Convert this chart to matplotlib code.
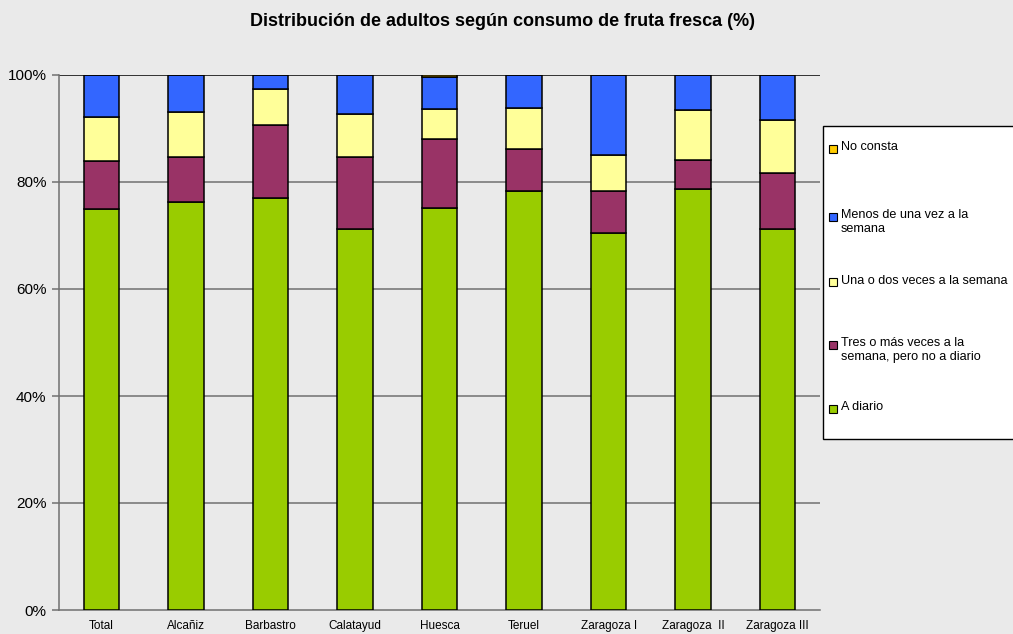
import matplotlib
matplotlib.use("Agg")
import matplotlib.pyplot as plt
from matplotlib.patches import Rectangle
import numpy as np

plt.rcParams['font.family'] = ['Liberation Sans', 'DejaVu Sans']

zonas = ["Total", "Alcañiz", "Barbastro", "Calatayud", "Huesca",
         "Teruel", "Zaragoza I", "Zaragoza  II", "Zaragoza III"]

# porcentajes
a_diario = [74.9, 76.2, 77.1, 71.2, 75.1, 78.4, 70.5, 78.6, 71.2]
tres_mas = [9.0, 8.5, 13.5, 13.5, 12.9, 7.8, 7.8, 5.5, 10.4]
una_dos = [8.2, 8.3, 6.7, 8.1, 5.6, 7.7, 6.8, 9.3, 10.0]
menos_una = [7.9, 7.0, 2.7, 7.2, 6.0, 6.1, 14.9, 6.6, 8.4]
no_consta = [0.0, 0.0, 0.0, 0.0, 0.4, 0.0, 0.0, 0.0, 0.0]

series = [
    ("A diario", a_diario, "#99CC00"),
    ("Tres o más veces a la\nsemana, pero no a diario", tres_mas, "#993366"),
    ("Una o dos veces a la semana", una_dos, "#FFFF99"),
    ("Menos de una vez a la\nsemana", menos_una, "#3366FF"),
    ("No consta", no_consta, "#FFCC00"),
]

bg = "#EAEAEA"
fig = plt.figure(figsize=(10.13, 6.34), dpi=100, facecolor=bg)
W, H = 1013, 634
ax = fig.add_axes([59 / W, (H - 610) / H, (820 - 59) / W, (610 - 75) / H])
ax.set_facecolor(bg)

x = np.arange(len(zonas))
bottom = np.zeros(len(zonas))
for name, vals, col in series:
    ax.bar(x, vals, width=0.42, bottom=bottom, color=col,
           edgecolor="black", linewidth=1.1, zorder=3)
    bottom += np.array(vals)

# lineas de la cuadricula
for v in [20, 40, 60, 80]:
    ax.axhline(v, color="#707070", linewidth=1.1, zorder=1)
ax.axhline(100, color="black", linewidth=1.1, zorder=1)

ax.set_xlim(-0.5, len(zonas) - 0.5)
ax.set_ylim(0, 100)
ax.set_yticks([0, 20, 40, 60, 80, 100])
ax.set_yticklabels(["0%", "20%", "40%", "60%", "80%", "100%"], fontsize=11)
ax.set_xticks(x)
ax.set_xticklabels(zonas, fontsize=8.5)
ax.tick_params(axis="x", length=0, pad=7)
ax.tick_params(axis="y", length=5, width=1.1, color="#707070", pad=4)

for s in ["top", "right"]:
    ax.spines[s].set_visible(False)
for s in ["left", "bottom"]:
    ax.spines[s].set_color("#707070")
    ax.spines[s].set_linewidth(1.1)

fig.text(502 / W, 1 - 22 / H, "Distribución de adultos según consumo de fruta fresca (%)",
         ha="center", va="center", fontsize=13, fontweight="bold")

# leyenda dibujada a mano
fig.add_artist(Rectangle((823 / W, (H - 439) / H), 200 / W, (439 - 126) / H,
                         transform=fig.transFigure, facecolor="white",
                         edgecolor="black", linewidth=1.0))
ys = [409, 345, 282, 216.7, 149]
for (name, vals, col), yy in zip(series, ys):
    fig.add_artist(Rectangle((829 / W, (H - yy - 4) / H), 8 / W, 8 / H,
                             transform=fig.transFigure, facecolor=col,
                             edgecolor="black", linewidth=0.8))
    fig.text(841 / W, (H - yy + 7.5) / H, name, ha="left", va="top",
             fontsize=9.1, linespacing=1.15)

plt.savefig("out.png", dpi=100, facecolor=bg)
